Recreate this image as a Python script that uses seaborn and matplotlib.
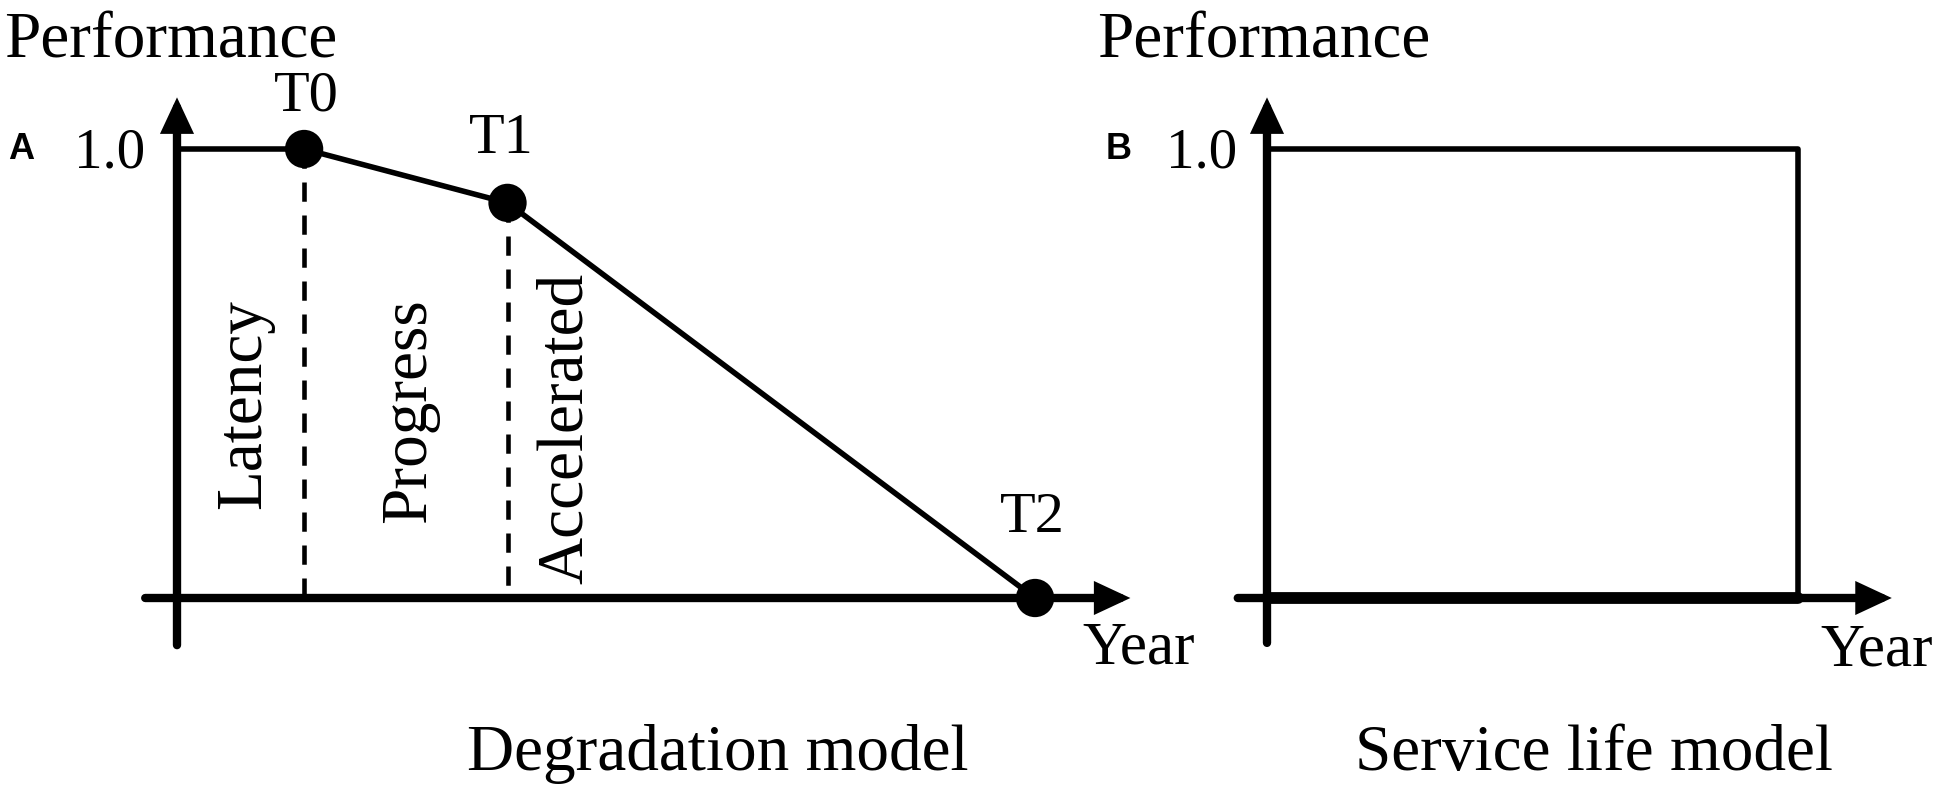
import matplotlib
matplotlib.use("Agg")
import matplotlib.pyplot as plt
import seaborn as sns

# Degradation model (panel A): start, T0, T1, T2
phase_years = [0.0, 2.0, 5.2, 13.5]
phase_perf = [1.0, 1.0, 0.88, 0.0]
point_labels = ["T0", "T1", "T2"]
phase_names = ["Latency", "Progress", "Accelerated"]

# Service life model (panel B)
service_end = 8.35
service_years = [0.0, service_end, service_end]
service_perf = [1.0, 1.0, 0.0]

tick_value = 1.0
tick_label = "1.0"

# canvas and scale (pixels)
W, H = 1950, 792
PX_YEAR = 63.56
PX_PERF = 449
BASE_Y = 598

sns.set_theme(style="white")
plt.rcParams["font.family"] = ["Liberation Serif", "DejaVu Serif"]


def panel_axes(fig, origin_x):
    # full canvas axes with the data origin at a given pixel
    ax = fig.add_axes([0, 0, 1, 1])
    ax.set_xlim(-origin_x / PX_YEAR, (W - origin_x) / PX_YEAR)
    ax.set_ylim(-(H - BASE_Y) / PX_PERF, BASE_Y / PX_PERF)
    ax.axis("off")
    ax.patch.set_alpha(0)
    return ax


def px(ax, x, y, origin_x):
    return (x - origin_x) / PX_YEAR, (BASE_Y - y) / PX_PERF


def draw_arrows(ax, x0, x1, y0, y1):
    kw = dict(arrowstyle="-|>,head_length=0.9,head_width=0.42", color="black",
              lw=6, shrinkA=0, shrinkB=0, mutation_scale=18, joinstyle="miter")
    ax.annotate("", xy=(x1, 0), xytext=(x0, 0), arrowprops=kw,
                annotation_clip=False, zorder=1)
    ax.annotate("", xy=(0, y1), xytext=(0, y0), arrowprops=kw,
                annotation_clip=False, zorder=1)


def label(ax, origin_x, x, y, s, size=47, ha="left", **kw):
    dx, dy = px(ax, x, y, origin_x)
    ax.text(dx, dy, s, fontsize=size, ha=ha, va="baseline", color="black",
            clip_on=False, **kw)


fig = plt.figure(figsize=(W / 100, H / 100), dpi=100)

# ---- panel A: degradation model ----
OA = 177
axA = panel_axes(fig, OA)
draw_arrows(axA, -0.5, 15.0, -0.105, 1.115)
sns.lineplot(x=phase_years, y=phase_perf, sort=False, estimator=None,
             color="black", lw=4, ax=axA, zorder=2)
for yr, pf in zip(phase_years[1:3], phase_perf[1:3]):
    axA.plot([yr, yr], [pf, 0], color="black", lw=3.3,
             linestyle=(0, (4.2, 3)), zorder=2)
sns.scatterplot(x=phase_years[1:], y=phase_perf[1:], s=760, color="black",
                edgecolor="none", ax=axA, zorder=3)
axA.set_xlim(-OA / PX_YEAR, (W - OA) / PX_YEAR)
axA.set_ylim(-(H - BASE_Y) / PX_PERF, BASE_Y / PX_PERF)

label(axA, OA, 4, 57, "Performance")
label(axA, OA, 21, 159, "A", size=26, ha="center",
      family=["Liberation Sans", "DejaVu Sans"], weight="bold")
label(axA, OA, 145, BASE_Y - tick_value * PX_PERF + 18, tick_label, size=41, ha="right")
for (lx, ly, s) in zip([306, 501, 1032], [110, 153, 532], point_labels):
    label(axA, OA, lx, ly, s, size=42, ha="center")
for (lx, ly, s) in zip([260, 425, 582], [404, 411, 428], phase_names):
    dx, dy = px(axA, lx, ly, OA)
    axA.text(dx, dy, s, fontsize=47, rotation=90, rotation_mode="anchor",
             ha="center", va="baseline", color="black")
label(axA, OA, 1082, 663, "Year", size=44)
label(axA, OA, 718, 770, "Degradation model", ha="center")

# ---- panel B: service life model ----
OB = 1267
axB = panel_axes(fig, OB)
draw_arrows(axB, -0.46, 9.83, -0.1, 1.115)
sns.lineplot(x=[0, service_end], y=[0, 0], sort=False, estimator=None,
             color="black", lw=8.5, ax=axB, zorder=2)
sns.lineplot(x=service_years, y=service_perf, sort=False, estimator=None,
             color="black", lw=4, ax=axB, zorder=2)
axB.set_xlim(-OB / PX_YEAR, (W - OB) / PX_YEAR)
axB.set_ylim(-(H - BASE_Y) / PX_PERF, BASE_Y / PX_PERF)

label(axB, OB, 1097, 57, "Performance")
label(axB, OB, 1119, 159, "B", size=26, ha="center",
      family=["Liberation Sans", "DejaVu Sans"], weight="bold")
label(axB, OB, 1237, BASE_Y - tick_value * PX_PERF + 18, tick_label, size=41, ha="right")
label(axB, OB, 1820, 665, "Year", size=44)
label(axB, OB, 1594, 770, "Service life model", ha="center")

fig.savefig("out.png", dpi=100, facecolor="white")
